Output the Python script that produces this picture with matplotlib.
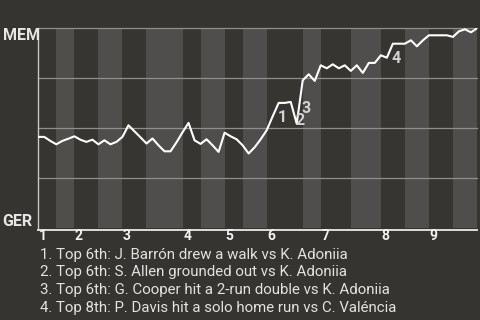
import matplotlib
matplotlib.use("Agg")
import matplotlib.pyplot as plt

plt.rcParams['font.family'] = ['Roboto', 'DejaVu Sans']

# ---- data ----
half_inning_bounds = [0, 3, 6, 10, 14, 18, 24, 27, 31, 34, 38, 44, 47, 52, 57, 61, 65, 69, 73]
inning_labels = ['1', '2', '3', '4', '5', '6', '7', '8', '9']
win_prob = [
    0.457, 0.457, 0.437, 0.420, 0.437, 0.448, 0.460, 0.443, 0.432, 0.443,
    0.420, 0.440, 0.420, 0.432, 0.457, 0.515, 0.485, 0.455, 0.424, 0.449,
    0.415, 0.385, 0.385, 0.430, 0.480, 0.527, 0.440, 0.422, 0.445, 0.415,
    0.382, 0.478, 0.460, 0.445, 0.415, 0.374, 0.405, 0.445, 0.490, 0.560,
    0.627, 0.627, 0.632, 0.523, 0.740, 0.770, 0.737, 0.815, 0.800, 0.820,
    0.800, 0.815, 0.787, 0.815, 0.777, 0.827, 0.827, 0.865, 0.853, 0.923,
    0.923, 0.923, 0.940, 0.910, 0.940, 0.965, 0.965, 0.965, 0.965, 0.957,
    0.985, 0.995, 0.980, 1.000,
]
event_idx = [40, 43, 44, 59]
event_labels = ['1', '2', '3', '4']
event_text = [
    "1. Top 6th: J. Barrón drew a walk vs K. Adoniia",
    "2. Top 6th: S. Allen grounded out vs K. Adoniia",
    "3. Top 6th: G. Cooper hit a 2-run double vs K. Adoniia",
    "4. Top 8th: P. Davis hit a solo home run vs C. Valéncia",
]
top_team, bottom_team = 'MEM', 'GER'

# ---- style ----
BG = '#363430'
DARK = '#373531'
LIGHT = '#4f4e4c'
GRID = '#8e8e8c'
W, H = 480, 320

fig = plt.figure(figsize=(4.8, 3.2), dpi=100, facecolor=BG)
ax_l, ax_r, ax_t, ax_b = 38.3, 477.0, 28.3, 228.3
ax = fig.add_axes([ax_l / W, 1 - ax_b / H, (ax_r - ax_l) / W, (ax_b - ax_t) / H])
ax.set_facecolor(DARK)
ax.set_xlim(half_inning_bounds[0], half_inning_bounds[-1])
ax.set_ylim(0, 1)

for i in range(len(half_inning_bounds) - 1):
    ax.axvspan(half_inning_bounds[i], half_inning_bounds[i + 1],
               color=DARK if i % 2 == 0 else LIGHT, lw=0, zorder=0)
for yv in [0.25, 0.5, 0.75, 1.0]:
    ax.axhline(yv, color=GRID, lw=0.9, zorder=1, clip_on=False)

ax.plot(range(len(win_prob)), win_prob, color='white', lw=1.5, zorder=3,
        solid_joinstyle='round')

for s in ['top', 'right']:
    ax.spines[s].set_visible(False)
ax.spines['left'].set_color('#c8c8c8')
ax.spines['left'].set_linewidth(1.0)
ax.spines['bottom'].set_color('#dcdcdc')
ax.spines['bottom'].set_linewidth(1.4)
ax.spines['bottom'].set_position(('outward', 1))
ax.set_yticks([])
ax.set_xticks([])

xt = ax.get_xaxis_transform()
for lab, b in zip(inning_labels, half_inning_bounds[::2]):
    ax.text(b + 0.1, -0.06, lab, transform=xt, ha='left', va='baseline',
            fontsize=10, fontweight='bold', color='#f2f2f2')

offsets = [(3.5, -19.5), (3.2, -1.2), (3.5, -32.5), (3.0, -19.3)]
for k, lab, off in zip(event_idx, event_labels, offsets):
    ax.annotate(lab, xy=(k, win_prob[k]), xytext=off, textcoords='offset pixels',
                ha='center', va='baseline', fontsize=11.5, fontweight='bold',
                color='#d2d2d2', zorder=4)

fig.text(2.5 / W, 1 - 39.8 / H, top_team, ha='left', va='baseline',
         fontsize=11.5, fontweight='bold', color='#e6e6e6')
fig.text(2.5 / W, 1 - 225.5 / H, bottom_team, ha='left', va='baseline',
         fontsize=11.5, fontweight='bold', color='#e6e6e6')

baselines = [258.5, 276.2, 294.0, 311.7]
for t, bl in zip(event_text, baselines):
    fig.text(40 / W, 1 - bl / H, t, ha='left', va='baseline', fontsize=10.8,
             color='#e2e2e2')

fig.savefig('out.png', dpi=100, facecolor=BG)
